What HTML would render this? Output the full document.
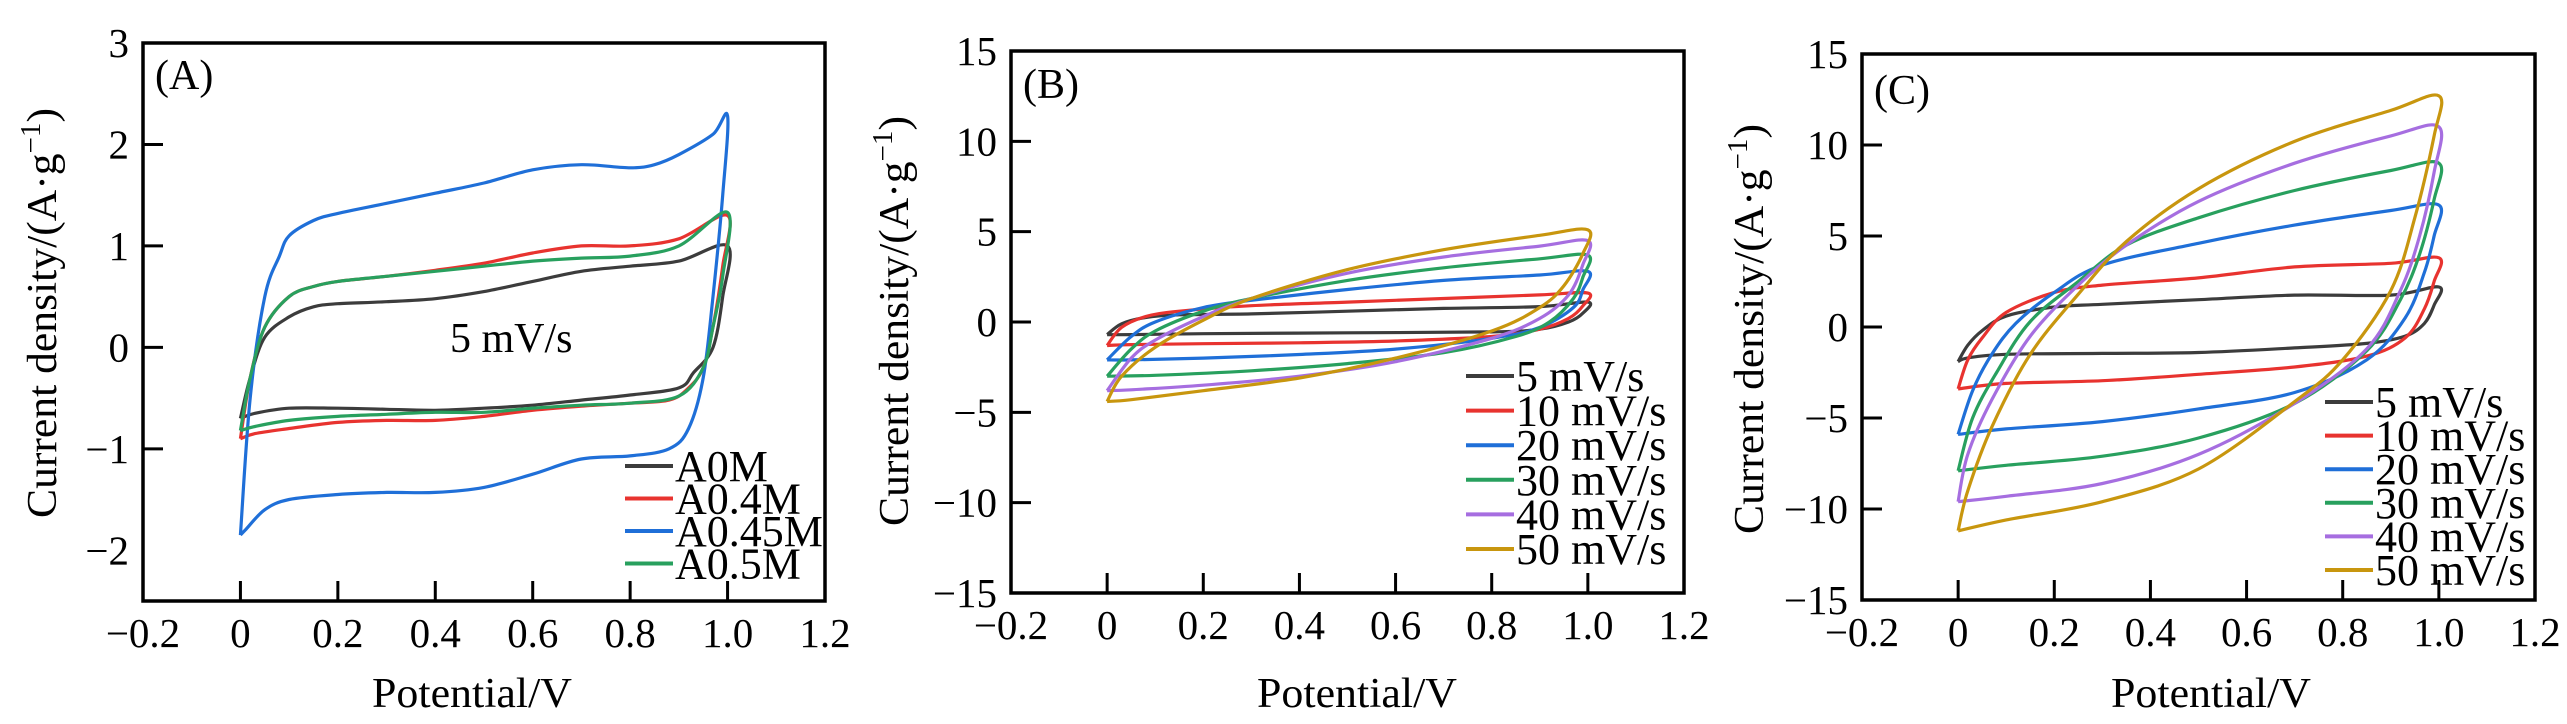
<!DOCTYPE html>
<html><head><meta charset="utf-8"><style>
html,body{margin:0;padding:0;background:#fff;}
svg{display:block;}
text{font-family:"Liberation Serif",serif;fill:#000;}
</style></head><body>
<svg id="fig" width="2567" height="724" viewBox="0 0 2567 724" xmlns="http://www.w3.org/2000/svg"></svg>
<script>
// ---------- Data ----------
const xTickLabels = ["\u22120.2","0","0.2","0.4","0.6","0.8","1.0","1.2"];
const xTickValues = [-0.2,0,0.2,0.4,0.6,0.8,1.0,1.2];
const yTicksA = [-2,-1,0,1,2,3];
const yTicksBC = [-15,-10,-5,0,5,10,15];
const legendA = ["A0M","A0.4M","A0.45M","A0.5M"];
const legendRates = ["5 mV/s","10 mV/s","20 mV/s","30 mV/s","40 mV/s","50 mV/s"];

// Panel A series: closed CV loops [x,y]
const a0M = [[0,-0.7],[0.02,-0.3],[0.05,0.1],[0.1,0.3],[0.15,0.4],[0.2,0.43],[0.3,0.45],[0.4,0.48],[0.5,0.55],[0.6,0.65],[0.7,0.75],[0.8,0.8],[0.9,0.85],[1.0,1.0],[0.99,0.5],[0.97,0.0],[0.93,-0.25],[0.9,-0.4],[0.8,-0.47],[0.7,-0.52],[0.6,-0.57],[0.5,-0.6],[0.4,-0.62],[0.3,-0.61],[0.2,-0.6],[0.1,-0.6],[0.03,-0.65],[0,-0.7]];
const a04M = [[0,-0.9],[0.02,-0.3],[0.05,0.2],[0.1,0.5],[0.15,0.6],[0.2,0.65],[0.3,0.7],[0.4,0.76],[0.5,0.83],[0.6,0.93],[0.7,1.0],[0.8,1.0],[0.9,1.07],[1.0,1.3],[0.99,0.8],[0.97,0.2],[0.95,-0.2],[0.92,-0.4],[0.88,-0.52],[0.8,-0.55],[0.7,-0.58],[0.6,-0.62],[0.5,-0.68],[0.4,-0.72],[0.3,-0.72],[0.2,-0.74],[0.1,-0.8],[0.03,-0.85],[0,-0.9]];
const a045M = [[0,-1.85],[0.02,-0.5],[0.05,0.5],[0.08,0.9],[0.1,1.1],[0.15,1.25],[0.2,1.32],[0.3,1.42],[0.4,1.52],[0.5,1.62],[0.6,1.75],[0.7,1.8],[0.8,1.77],[0.85,1.8],[0.9,1.9],[0.97,2.1],[1.0,2.28],[0.99,1.5],[0.97,0.5],[0.95,-0.3],[0.92,-0.8],[0.88,-1.0],[0.8,-1.07],[0.7,-1.1],[0.6,-1.25],[0.5,-1.38],[0.4,-1.43],[0.3,-1.43],[0.2,-1.45],[0.1,-1.5],[0.05,-1.6],[0.01,-1.8],[0,-1.85]];
const a05M = [[0,-0.82],[0.02,-0.3],[0.05,0.2],[0.1,0.5],[0.15,0.6],[0.2,0.65],[0.3,0.7],[0.4,0.75],[0.5,0.8],[0.6,0.85],[0.7,0.88],[0.8,0.9],[0.9,1.0],[1.0,1.33],[0.99,0.7],[0.97,0.2],[0.95,-0.2],[0.9,-0.48],[0.8,-0.55],[0.7,-0.57],[0.6,-0.6],[0.5,-0.64],[0.4,-0.64],[0.3,-0.66],[0.2,-0.68],[0.1,-0.72],[0.03,-0.78],[0,-0.82]];

// Panel B series
const b5 = [[0,-0.7],[0.03,-0.1],[0.08,0.25],[0.15,0.4],[0.3,0.45],[0.5,0.6],[0.7,0.75],[0.9,0.85],[1.0,1.1],[0.99,0.5],[0.96,0],[0.9,-0.4],[0.8,-0.55],[0.5,-0.6],[0.2,-0.65],[0.05,-0.7],[0,-0.7]];
const b10 = [[0,-1.3],[0.03,-0.3],[0.08,0.3],[0.15,0.6],[0.3,0.9],[0.5,1.1],[0.7,1.3],[0.9,1.5],[1.0,1.6],[0.99,0.9],[0.96,0.2],[0.9,-0.4],[0.8,-0.8],[0.6,-1.05],[0.4,-1.15],[0.2,-1.2],[0.05,-1.25],[0,-1.3]];
const b20 = [[0,-2.1],[0.05,-0.8],[0.1,0],[0.2,0.8],[0.3,1.2],[0.5,1.8],[0.7,2.3],[0.9,2.6],[1.0,2.8],[0.99,1.8],[0.97,0.8],[0.9,-0.3],[0.8,-0.9],[0.6,-1.5],[0.4,-1.8],[0.2,-2.0],[0.05,-2.1],[0,-2.1]];
const b30 = [[0,-3.0],[0.05,-1.5],[0.1,-0.5],[0.2,0.6],[0.3,1.3],[0.5,2.3],[0.7,3.0],[0.9,3.5],[1.0,3.7],[0.99,2.5],[0.97,1.3],[0.92,0],[0.85,-0.8],[0.7,-1.7],[0.5,-2.3],[0.3,-2.7],[0.1,-2.95],[0,-3.0]];
const b40 = [[0,-3.8],[0.05,-2.0],[0.1,-1.0],[0.2,0.3],[0.3,1.3],[0.5,2.7],[0.7,3.6],[0.9,4.2],[1.0,4.5],[0.99,3.2],[0.96,1.5],[0.9,0.2],[0.8,-0.9],[0.6,-2.2],[0.4,-3.0],[0.2,-3.5],[0.05,-3.75],[0,-3.8]];
const b50 = [[0,-4.4],[0.03,-3.0],[0.1,-1.4],[0.2,0.1],[0.3,1.3],[0.5,2.9],[0.7,4.0],[0.9,4.8],[1.0,5.1],[0.99,3.8],[0.95,2.0],[0.9,0.8],[0.8,-0.5],[0.6,-2.0],[0.4,-3.1],[0.2,-3.8],[0.05,-4.3],[0,-4.4]];

// Panel C series
const c5 = [[0,-1.9],[0.02,-1.0],[0.05,-0.2],[0.1,0.6],[0.2,1.1],[0.3,1.25],[0.5,1.5],[0.7,1.75],[0.9,1.75],[1.0,2.2],[0.99,1.2],[0.97,0.2],[0.93,-0.5],[0.85,-0.9],[0.7,-1.15],[0.5,-1.4],[0.3,-1.45],[0.1,-1.5],[0.02,-1.7],[0,-1.9]];
const c10 = [[0,-3.4],[0.02,-1.8],[0.05,-0.6],[0.1,0.8],[0.2,1.9],[0.3,2.3],[0.5,2.7],[0.7,3.3],[0.9,3.5],[1.0,3.8],[0.99,2.5],[0.97,1],[0.93,-0.6],[0.85,-1.6],[0.7,-2.2],[0.5,-2.6],[0.3,-2.95],[0.1,-3.1],[0,-3.4]];
const c20 = [[0,-5.9],[0.03,-3.5],[0.07,-1.5],[0.12,0.2],[0.2,1.9],[0.3,3.4],[0.5,4.6],[0.7,5.6],[0.9,6.4],[1.0,6.7],[0.99,5.0],[0.97,3.0],[0.93,0.5],[0.85,-1.8],[0.7,-3.6],[0.5,-4.5],[0.3,-5.2],[0.1,-5.6],[0,-5.9]];
const c30 = [[0,-7.9],[0.03,-5.0],[0.08,-2.5],[0.15,0.3],[0.25,2.5],[0.35,4.5],[0.5,6.0],[0.7,7.5],[0.9,8.6],[1.0,9.0],[0.99,7],[0.96,4],[0.92,1.5],[0.85,-1.3],[0.7,-4.2],[0.5,-6.1],[0.3,-7.1],[0.1,-7.6],[0,-7.9]];
const c40 = [[0,-9.6],[0.02,-7],[0.07,-4],[0.15,-0.5],[0.25,2.3],[0.35,4.5],[0.5,6.9],[0.7,9.0],[0.9,10.5],[1.0,11.0],[0.99,8.5],[0.96,5],[0.92,2],[0.85,-1.2],[0.7,-4.2],[0.5,-7],[0.3,-8.6],[0.1,-9.3],[0,-9.6]];
const c50 = [[0,-11.2],[0.02,-9],[0.07,-5.5],[0.15,-1.5],[0.25,1.8],[0.35,4.7],[0.5,7.6],[0.7,10.2],[0.9,11.9],[1.0,12.7],[0.99,10.5],[0.95,6],[0.9,2],[0.8,-1.8],[0.7,-4.1],[0.5,-7.8],[0.3,-9.6],[0.1,-10.6],[0,-11.2]];

const colA = ["#3c3c3c","#e8332f","#1f6fd8","#28a05e"];
const colR = ["#3c3c3c","#e8332f","#1f6fd8","#28a05e","#a66ee0","#c8960e"];

// ---------- Drawing ----------
const NS = "http://www.w3.org/2000/svg";
const svg = document.getElementById("fig");
function mk(tag, attrs, parent){ const e=document.createElementNS(NS,tag); for(const k in attrs) e.setAttribute(k,attrs[k]); (parent||svg).appendChild(e); return e; }

function smoothPath(pts){
  let d = "M"+pts[0][0].toFixed(1)+" "+pts[0][1].toFixed(1);
  for(let i=0;i<pts.length-1;i++){
    const p0 = pts[Math.max(0,i-1)], p1 = pts[i], p2 = pts[i+1], p3 = pts[Math.min(pts.length-1,i+2)];
    const k = 1/6;
    const c1x = p1[0]+(p2[0]-p0[0])*k, c1y = p1[1]+(p2[1]-p0[1])*k;
    const c2x = p2[0]-(p3[0]-p1[0])*k, c2y = p2[1]-(p3[1]-p1[1])*k;
    d += ` C${c1x.toFixed(1)} ${c1y.toFixed(1)} ${c2x.toFixed(1)} ${c2y.toFixed(1)} ${p2[0].toFixed(1)} ${p2[1].toFixed(1)}`;
  }
  return d;
}

function panel(cfg){
  const g = mk("g",{});
  
  
  const sx = v => cfg.L + (v - (-0.2)) / 1.4 * (cfg.R - cfg.L);
  const sy = v => cfg.B - (v - cfg.ymin) / (cfg.ymax - cfg.ymin) * (cfg.B - cfg.T);
  cfg.series.forEach((s,i)=>{
    const pts = s.map(p=>[sx(p[0]), sy(p[1])]);
    const path = mk("path",{d:smoothPath(pts),fill:"none",stroke:cfg.colors[i],"stroke-width":3.2,"stroke-linejoin":"round"},g);
    
    
  });
  const fr = mk("rect",{x:cfg.L,y:cfg.T,width:cfg.R-cfg.L,height:cfg.B-cfg.T,fill:"none",stroke:"#000","stroke-width":3.5},g);
  
  
  xTickValues.forEach((v,i)=>{
    const x = sx(v);
    if(i>0 && i<xTickValues.length-1){ mk("line",{x1:x,x2:x,y1:cfg.B,y2:cfg.B-20,stroke:"#000","stroke-width":3},g); }
    const t = mk("text",{x:x,y:cfg.B+46,"text-anchor":"middle","font-size":41},g);
    t.textContent = xTickLabels[i];
    
    
  });
  cfg.yticks.forEach((v,i)=>{
    const y = sy(v);
    if(i>0 && i<cfg.yticks.length-1){ mk("line",{x1:cfg.L,x2:cfg.L+20,y1:y,y2:y,stroke:"#000","stroke-width":3},g); }
    const t = mk("text",{x:cfg.L-14,y:y+14,"text-anchor":"end","font-size":41},g);
    t.textContent = v<0 ? "\u2212"+Math.abs(v) : String(v);
    
    
  });
  const xt = mk("text",{x:cfg.xtX,y:707,"text-anchor":"middle","font-size":42,textLength:200,lengthAdjust:"spacingAndGlyphs"},g);
  xt.textContent = "Potential/V";
  
  
  const yt = mk("text",{transform:`translate(${cfg.ytX},${cfg.ytY}) rotate(-90)`,"text-anchor":"middle","font-size":42,textLength:410,lengthAdjust:"spacingAndGlyphs"},g);
  yt.innerHTML = 'Current density/(A\u00b7g<tspan dy="-16" font-size="28">\u22121</tspan><tspan dy="16">)</tspan>';
  
  
  const pl = mk("text",{x:cfg.L+12,y:cfg.labY,"font-size":42},g);
  pl.textContent = cfg.label;
  
  
  cfg.legend.forEach((name,i)=>{
    const y = cfg.legY[0] + i*cfg.legY[1];
    const ln = mk("line",{x1:cfg.legX,x2:cfg.legX+48,y1:y,y2:y,stroke:cfg.colors[i],"stroke-width":4},g);
    
    
    const t = mk("text",{x:cfg.legX+50,y:y+15,"font-size":44},g);
    t.textContent = name;
    
    
  });
  return {g,sx,sy};
}

const pA = panel({name:"panel-a",prefix:"a",L:143,R:825,T:43,B:601,ymin:-2.5,ymax:3,yticks:yTicksA,
  series:[a0M,a04M,a045M,a05M],colors:colA,legend:legendA,legX:625,legY:[466,32.5],
  xtX:472,ytX:56,ytY:313,label:"(A)",labY:89});
const note = mk("text",{x:450,y:352,"font-size":42},pA.g);
note.textContent = "5 mV/s";



panel({name:"panel-b",prefix:"b",L:1011,R:1684,T:51,B:593,ymin:-15,ymax:15,yticks:yTicksBC,
  series:[b5,b10,b20,b30,b40,b50],colors:colR,legend:legendRates,legX:1466,legY:[376,34.6],
  xtX:1357,ytX:908,ytY:321,label:"(B)",labY:98});

panel({name:"panel-c",prefix:"c",L:1862,R:2535,T:54,B:600,ymin:-15,ymax:15,yticks:yTicksBC,
  series:[c5,c10,c20,c30,c40,c50],colors:colR,legend:legendRates,legX:2325,legY:[402,33.6],
  xtX:2211,ytX:1763,ytY:329,label:"(C)",labY:104});
</script>
</body></html>
